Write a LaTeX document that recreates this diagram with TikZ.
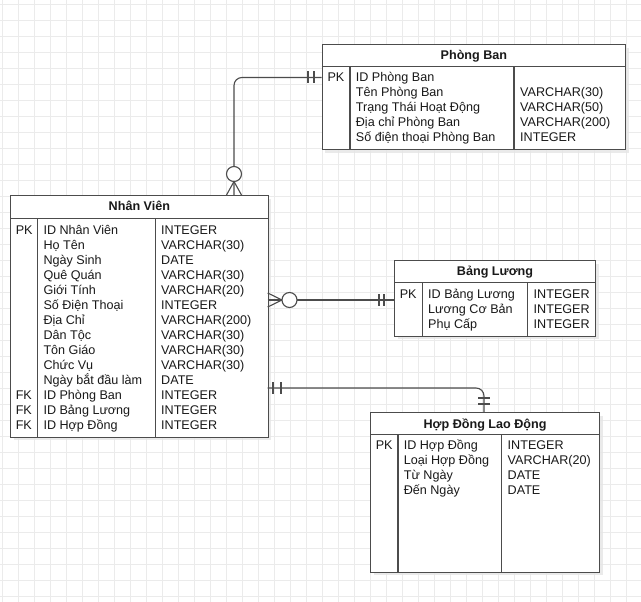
\documentclass[tikz,border=0pt]{standalone}
\usepackage{fontspec}
\setmainfont{Liberation Sans}
\usetikzlibrary{calc}
\usetikzlibrary{shadows}

\tikzset{
  gridline/.style={draw=black!8, line width=0.9pt},
  erbox/.style={draw=black!70, line width=1.1pt, fill=white, inner sep=0pt, anchor=north west,
    drop shadow={shadow xshift=3pt, shadow yshift=-3pt, fill=black!10, opacity=0.8}},
  erline/.style={draw=black!70, line width=1.1pt},
  ertitle/.style={font=\fontsize{12.6}{15}\selectfont\bfseries, anchor=base, inner sep=0pt, text=black!90},
  ercol/.style={align=left, anchor=base west, inner sep=0pt, text=black!90},
}

\begin{document}
\begin{tikzpicture}[x=1pt, y=-1pt, font=\fontsize{12.6}{15}\selectfont]
		\useasboundingbox (0,0) rectangle (641,602);
		\fill[white] (0,0) rectangle (641,602);
		% background grid
		\foreach \gx in {2,18,...,642} \draw[gridline] (\gx,0) -- (\gx,602);
		\foreach \gy in {4,20,...,602} \draw[gridline] (0,\gy) -- (641,\gy);

		% Phong Ban (multi-line columns sit on the baseline of their last row)
		\node[erbox, minimum width=303.3, minimum height=105.3] (pb) at (321.7,44) {};
		\draw[erline] ($(pb.north west)+(0,22.7)$) -- ($(pb.north east)+(0,22.7)$);
		\draw[erline] ($(pb.north west)+(28.3,22.7)$) -- ($(pb.south west)+(28.3,0)$);
		\draw[erline] ($(pb.north west)+(192.3,22.7)$) -- ($(pb.south west)+(192.3,0)$);
		\node[ertitle] (pbTitle) at ($(pb.north)+(0,16)$) {Phòng Ban};
		\node[ercol] (pbKey) at (327.3,82) {PK};
		\node[ercol] (pbName) at (355.7,142) {ID Phòng Ban\\Tên Phòng Ban\\Trạng Thái Hoạt Động\\Địa chỉ Phòng Ban\\Số điện thoại Phòng Ban};
		\node[ercol] (pbType) at (520,142) {VARCHAR(30)\\VARCHAR(50)\\VARCHAR(200)\\INTEGER};

		% Nhan Vien
		\node[erbox, minimum width=257.7, minimum height=241.7] (nv) at (10,195) {};
		\draw[erline] ($(nv.north west)+(0,23.3)$) -- ($(nv.north east)+(0,23.3)$);
		\draw[erline] ($(nv.north west)+(27.7,23.3)$) -- ($(nv.south west)+(27.7,0)$);
		\draw[erline] ($(nv.north west)+(145.7,23.3)$) -- ($(nv.south west)+(145.7,0)$);
		\node[ertitle] (nvTitle) at ($(nv.north)+(0,16)$) {Nhân Viên};
		\node[ercol] (nvKey) at (15.6,234) {PK};
		\node[ercol] (nvFKey) at (15.6,429) {FK\\FK\\FK};
		\node[ercol] (nvName) at (43.3,429) {ID Nhân Viên\\Họ Tên\\Ngày Sinh\\Quê Quán\\Giới Tính\\Số Điện Thoại\\Địa Chỉ\\Dân Tộc\\Tôn Giáo\\Chức Vụ\\Ngày bắt đầu làm\\ID Phòng Ban\\ID Bảng Lương\\ID Hợp Đồng};
		\node[ercol] (nvType) at (161,429) {INTEGER\\VARCHAR(30)\\DATE\\VARCHAR(30)\\VARCHAR(20)\\INTEGER\\VARCHAR(200)\\VARCHAR(30)\\VARCHAR(30)\\VARCHAR(30)\\DATE\\INTEGER\\INTEGER\\INTEGER};

		% Bang Luong
		\node[erbox, minimum width=201, minimum height=75.7] (bl) at (394,260) {};
		\draw[erline] ($(bl.north west)+(0,22.3)$) -- ($(bl.north east)+(0,22.3)$);
		\draw[erline] ($(bl.north west)+(28.3,22.3)$) -- ($(bl.south west)+(28.3,0)$);
		\draw[erline] ($(bl.north west)+(133.7,22.3)$) -- ($(bl.south west)+(133.7,0)$);
		\node[ertitle] (blTitle) at ($(bl.north)+(0,15.5)$) {Bảng Lương};
		\node[ercol] (blKey) at (399.6,298) {PK};
		\node[ercol] (blName) at (428,328) {ID Bảng Lương\\Lương Cơ Bản\\Phụ Cấp};
		\node[ercol] (blType) at (533.5,328) {INTEGER\\INTEGER\\INTEGER};

		% Hop Dong Lao Dong
		\node[erbox, minimum width=229, minimum height=159.4] (hd) at (370,412.3) {};
		\draw[erline] ($(hd.north west)+(0,22.4)$) -- ($(hd.north east)+(0,22.4)$);
		\draw[erline] ($(hd.north west)+(28,22.4)$) -- ($(hd.south west)+(28,0)$);
		\draw[erline] ($(hd.north west)+(131.7,22.4)$) -- ($(hd.south west)+(131.7,0)$);
		\node[ertitle] (hdTitle) at ($(hd.north)+(0,15.7)$) {Hợp Đồng Lao Động};
		\node[ercol] (hdKey) at (375.6,449.5) {PK};
		\node[ercol] (hdName) at (403.6,494.5) {ID Hợp Đồng\\Loại Hợp Đồng\\Từ Ngày\\Đến Ngày};
		\node[ercol] (hdType) at (507.5,494.5) {INTEGER\\VARCHAR(20)\\DATE\\DATE};

		% relations
		\coordinate (pbIn) at (321.7,77.5);
		\coordinate (nvTop) at (234,195);
		\draw[erline, rounded corners=8pt] (pbIn) -| (nvTop);
		\draw[erline] (308,71.5) -- (308,83.5);
		\draw[erline] (314,71.5) -- (314,83.5);
		\draw[erline, fill=white] (234,174) circle (7.5);
		\draw[erline] (226.5,195) -- (234,181.5) -- (241.5,195);

		\coordinate (nvOut) at (267.7,300);
		\coordinate (blIn) at (394,300);
		\draw[erline] (nvOut) -- (blIn);
		\draw[erline] (267.7,293) -- (282,300) -- (267.7,307);
		\draw[erline, fill=white] (289.5,300) circle (7.5);
		\draw[erline] (379,294) -- (379,306);
		\draw[erline] (384,294) -- (384,306);

		\coordinate (nvHd) at (267.7,388);
		\coordinate (hdTop) at (484,412.3);
		\draw[erline, rounded corners=8pt] (nvHd) -| (hdTop);
		\draw[erline] (273,382) -- (273,394);
		\draw[erline] (281,382) -- (281,394);
		\draw[erline] (478,398) -- (490,398);
		\draw[erline] (478,404) -- (490,404);
		\end{tikzpicture}
\end{document}
